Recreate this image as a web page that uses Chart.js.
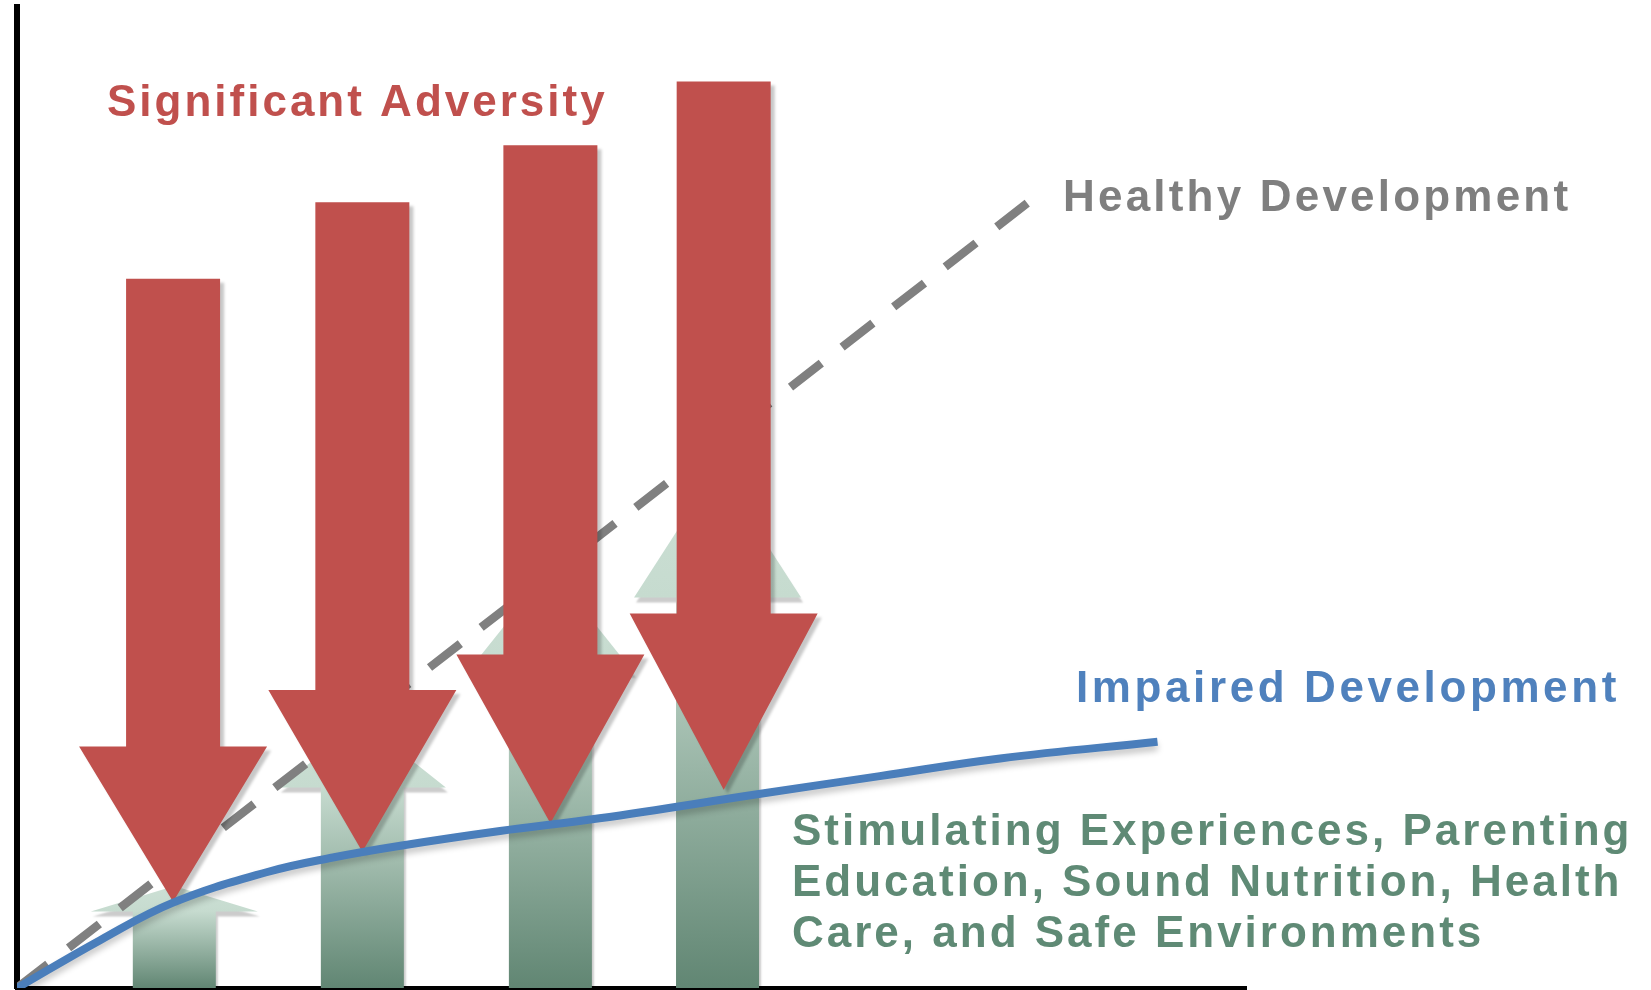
<!DOCTYPE html>
<html>
<head>
<meta charset="utf-8">
<title>Adversity and development</title>
<script src="https://cdn.jsdelivr.net/npm/chart.js@4.4.0/dist/chart.umd.min.js"></script>
<style>
  html, body { margin: 0; padding: 0; background: #ffffff; }
  #chart { display: block; }
</style>
</head>
<body>
<canvas id="chart" width="1651" height="990"></canvas>
<script>
// x: age / time (0-100), y: developmental level (0-100)
const healthyX = [0, 82.2];
const healthyY = [0, 80.0];

const impairedX = [0, 6.8, 12.7, 20.3, 25.7, 31.2, 39.3, 47.4, 60.5, 70.2, 80.0, 92.8];
const impairedY = [0, 4.9, 8.7, 11.8, 13.3, 14.5, 16.0, 17.3, 19.8, 21.6, 23.4, 25.1];

// red arrows (significant adversity) pushing down
const adversityX = [12.7, 28.1, 43.4, 57.5];
const adversityTop = [72.3, 80.1, 85.9, 92.4];
const adversityTip = [8.8, 13.9, 16.8, 20.2];

// green arrows (supports) pushing up
const supportX = [12.8, 28.1, 43.4, 57.0];
const supportTop = [10.4, 27.2, 42.8, 53.0];

const supportLines = [
    'Stimulating Experiences, Parenting',
    'Education, Sound Nutrition, Health',
    'Care, and Safe Environments'
];

document.addEventListener("DOMContentLoaded", function () {

    const font = 'bold 44px "Liberation Sans", Arial, sans-serif';

    function drawDownArrow(ctx, cx, top, tip) {
        const shaft = 94, head = 188;
        const headTop = tip - (tip - top) * 0.249;
        ctx.save();
        ctx.shadowColor = 'rgba(0,0,0,0.22)';
        ctx.shadowOffsetX = 4;
        ctx.shadowOffsetY = 4;
        ctx.shadowBlur = 3;
        ctx.fillStyle = '#c0504d';
        ctx.beginPath();
        ctx.moveTo(cx - shaft / 2, top);
        ctx.lineTo(cx + shaft / 2, top);
        ctx.lineTo(cx + shaft / 2, headTop);
        ctx.lineTo(cx + head / 2, headTop);
        ctx.lineTo(cx, tip);
        ctx.lineTo(cx - head / 2, headTop);
        ctx.lineTo(cx - shaft / 2, headTop);
        ctx.closePath();
        ctx.fill();
        ctx.restore();
    }

    function drawUpArrow(ctx, cx, top, bottom) {
        const shaft = 83, head = 167;
        const headLen = (bottom - top) * 0.249;
        const base = top + headLen;
        const grad = ctx.createLinearGradient(0, top, 0, bottom);
        grad.addColorStop(0, '#cce0d5');
        grad.addColorStop(headLen / (bottom - top), '#c6dbcf');
        grad.addColorStop(1, '#618673');
        ctx.save();
        ctx.shadowColor = 'rgba(0,0,0,0.2)';
        ctx.shadowOffsetX = 2;
        ctx.shadowOffsetY = 5;
        ctx.shadowBlur = 2;
        ctx.fillStyle = grad;
        ctx.beginPath();
        ctx.moveTo(cx, top);
        ctx.lineTo(cx + head / 2, base);
        ctx.lineTo(cx + shaft / 2, base);
        ctx.lineTo(cx + shaft / 2, bottom);
        ctx.lineTo(cx - shaft / 2, bottom);
        ctx.lineTo(cx - shaft / 2, base);
        ctx.lineTo(cx - head / 2, base);
        ctx.closePath();
        ctx.fill();
        ctx.restore();
    }

    function label(ctx, text, px, py, color, spacing) {
        ctx.save();
        ctx.font = font;
        ctx.fillStyle = color;
        ctx.textBaseline = 'alphabetic';
        ctx.textAlign = 'left';
        ctx.letterSpacing = (spacing || 3) + 'px';
        ctx.fillText(text, px, py);
        ctx.restore();
    }

    const arrowsPlugin = {
        id: 'arrows',
        beforeDatasetsDraw(chart) {
            const { ctx, scales: { x, y } } = chart;
            supportX.forEach((v, i) => {
                drawUpArrow(ctx, x.getPixelForValue(v), y.getPixelForValue(supportTop[i]), y.getPixelForValue(0));
            });
        },
        beforeDatasetDraw(chart, args) {
            if (args.index === 0) {
                chart.ctx.save();
                chart.ctx.shadowColor = 'rgba(0,0,0,0.22)';
                chart.ctx.shadowOffsetY = 5;
                chart.ctx.shadowBlur = 6;
            }
        },
        afterDatasetDraw(chart, args) {
            const { ctx, scales: { x, y } } = chart;
            if (args.index === 0) {
                ctx.restore();
            }
            if (args.index === 1) {
                // adversity arrows sit above the dashed line, below the blue one
                adversityX.forEach((v, i) => {
                    drawDownArrow(ctx, x.getPixelForValue(v), y.getPixelForValue(adversityTop[i]), y.getPixelForValue(adversityTip[i]));
                });
            }
        },
        afterDraw(chart) {
            const ctx = chart.ctx;
            label(ctx, 'Significant Adversity', 107, 116, '#c0504d');
            label(ctx, 'Healthy Development', 1063, 211, '#7f7f7f', 3.2);
            label(ctx, 'Impaired Development', 1076, 702, '#4f81bd', 3.6);
            supportLines.forEach((t, i) => {
                label(ctx, t, 792, 845 + i * 51, '#5f8a75');
            });
        }
    };

    const ctx = document.getElementById('chart').getContext('2d');
    const myChart = new Chart(ctx, {
        type: 'line',
        data: {
            datasets: [
                {
                    label: 'Impaired Development',
                    data: impairedX.map((v, i) => ({ x: v, y: impairedY[i] })),
                    borderColor: '#4a7ebb',
                    borderWidth: 8,
                    pointRadius: 0,
                    tension: 0.4,
                    fill: false
                },
                {
                    label: 'Healthy Development',
                    data: healthyX.map((v, i) => ({ x: v, y: healthyY[i] })),
                    borderColor: '#808080',
                    borderWidth: 8.5,
                    borderDash: [39, 26.3],
                    borderCapStyle: 'butt',
                    pointRadius: 0,
                    fill: false
                }
            ]
        },
        options: {
            responsive: false,
            animation: false,
            layout: {
                padding: { left: 17, right: 405, top: 7, bottom: 2 }
            },
            scales: {
                x: {
                    type: 'linear',
                    min: 0,
                    max: 100,
                    grid: { display: false, drawTicks: false },
                    ticks: { display: false },
                    border: { display: true, color: '#000000', width: 4 }
                },
                y: {
                    type: 'linear',
                    min: 0,
                    max: 100,
                    grid: { display: false, drawTicks: false },
                    ticks: { display: false },
                    border: { display: true, color: '#000000', width: 6 }
                }
            },
            plugins: {
                legend: { display: false },
                tooltip: { enabled: false },
                title: { display: false }
            }
        },
        plugins: [arrowsPlugin]
    });

});
</script>
</body>
</html>
